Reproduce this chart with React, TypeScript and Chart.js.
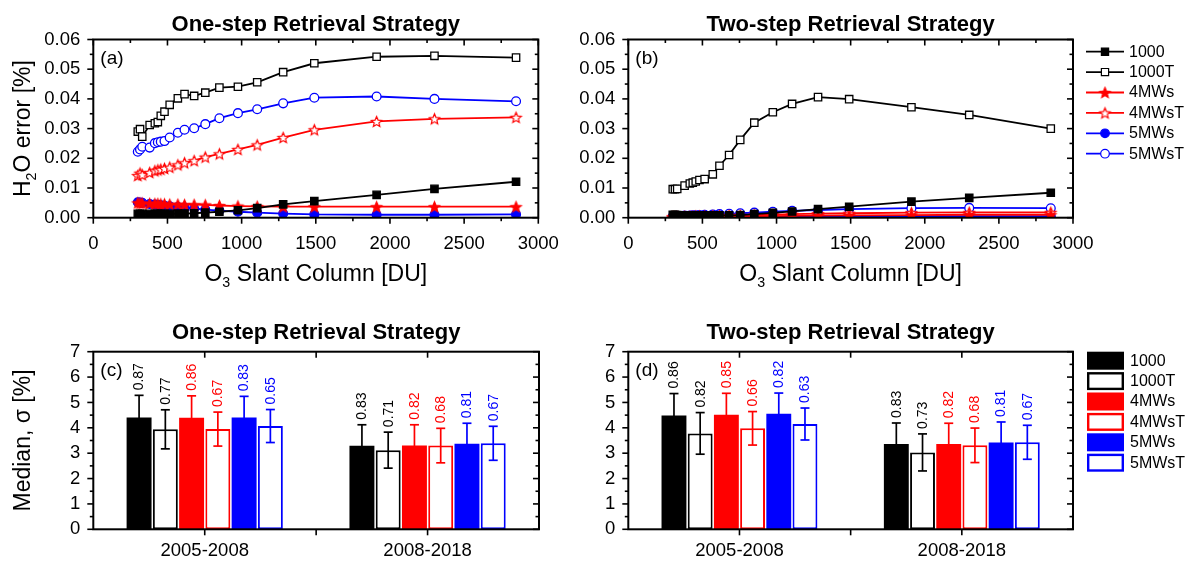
import React, { useEffect, useRef } from 'react';
import { Chart, registerables } from 'chart.js';

Chart.register(...registerables);

const FONT = '"Liberation Sans", Arial, Helvetica, sans-serif';

// ---------- data ----------
const slantColumn = [300, 315, 330, 380, 415, 435, 455, 480, 515, 570, 615, 680, 755, 850, 975, 1105, 1280, 1490, 1910, 2300, 2850];

const oneStep1000 = [0.0013, 0.0013, 0.0013, 0.0013, 0.0013, 0.0013, 0.0013, 0.0013, 0.0013, 0.0014, 0.0014, 0.0015, 0.0017, 0.002, 0.0025, 0.0032, 0.0045, 0.0056, 0.0077, 0.0097, 0.0121];
const oneStep1000T = [0.029, 0.0298, 0.0273, 0.0312, 0.0318, 0.0322, 0.0343, 0.0357, 0.038, 0.0402, 0.0416, 0.041, 0.0421, 0.0438, 0.0441, 0.0456, 0.049, 0.052, 0.0542, 0.0545, 0.0539];
const oneStep4MWs = [0.005, 0.0049, 0.0049, 0.0048, 0.0047, 0.0047, 0.0046, 0.0046, 0.0045, 0.0045, 0.0044, 0.0044, 0.0043, 0.0041, 0.0039, 0.0038, 0.0037, 0.0037, 0.0037, 0.0037, 0.0037];
const oneStep4MWsT = [0.0142, 0.015, 0.0145, 0.0152, 0.0158, 0.0161, 0.0163, 0.0166, 0.017, 0.0178, 0.0185, 0.0192, 0.0204, 0.0215, 0.023, 0.0245, 0.027, 0.0296, 0.0324, 0.0333, 0.0338];
const oneStep5MWs = [0.0052, 0.0051, 0.005, 0.0046, 0.0044, 0.0043, 0.0042, 0.004, 0.0038, 0.0036, 0.0034, 0.0031, 0.0027, 0.0024, 0.002, 0.0017, 0.0014, 0.0011, 0.001, 0.001, 0.0011];
const oneStep5MWsT = [0.0222, 0.023, 0.0239, 0.0236, 0.0251, 0.0254, 0.0256, 0.0258, 0.027, 0.0286, 0.0296, 0.0301, 0.0315, 0.0335, 0.0352, 0.0365, 0.0385, 0.0404, 0.0408, 0.04, 0.0392];

const twoStep1000 = [0.001, 0.001, 0.0009, 0.0008, 0.0008, 0.0008, 0.0008, 0.0008, 0.0008, 0.0008, 0.0008, 0.0008, 0.0009, 0.0012, 0.0016, 0.0021, 0.0029, 0.0037, 0.0054, 0.0067, 0.0084];
const twoStep1000T = [0.0096, 0.0096, 0.0097, 0.0108, 0.0115, 0.0118, 0.0122, 0.0127, 0.013, 0.0146, 0.0175, 0.0211, 0.0262, 0.032, 0.0355, 0.0383, 0.0406, 0.0399, 0.0372, 0.0346, 0.03];
const twoStep4MWs = [0.0002, 0.0002, 0.0002, 0.0002, 0.0002, 0.0002, 0.0003, 0.0003, 0.0003, 0.0003, 0.0003, 0.0004, 0.0004, 0.0005, 0.0005, 0.0006, 0.0007, 0.0008, 0.0009, 0.001, 0.001];
const twoStep4MWsT = [0.0003, 0.0003, 0.0003, 0.0004, 0.0004, 0.0004, 0.0005, 0.0005, 0.0005, 0.0006, 0.0006, 0.0007, 0.0008, 0.0009, 0.001, 0.0012, 0.0014, 0.0015, 0.0017, 0.0018, 0.0018];
const twoStep5MWs = [0.0001, 0.0001, 0.0001, 0.0001, 0.0001, 0.0001, 0.0001, 0.0002, 0.0002, 0.0002, 0.0002, 0.0002, 0.0002, 0.0003, 0.0003, 0.0003, 0.0004, 0.0004, 0.0005, 0.0005, 0.0005];
const twoStep5MWsT = [0.0005, 0.0005, 0.0006, 0.0007, 0.0007, 0.0008, 0.0008, 0.0009, 0.001, 0.0011, 0.0012, 0.0013, 0.0015, 0.0017, 0.002, 0.0023, 0.0026, 0.0029, 0.0032, 0.0033, 0.0032];

const periods = ['2005-2008', '2008-2018'];
const seriesNames = ['1000', '1000T', '4MWs', '4MWsT', '5MWs', '5MWsT'];

const oneStepMedian2005 = [4.41, 3.94, 4.4, 3.95, 4.41, 4.07];
const oneStepMedian2008 = [3.29, 3.12, 3.3, 3.3, 3.37, 3.39];
const oneStepSigma2005 = [0.87, 0.77, 0.86, 0.67, 0.83, 0.65];
const oneStepSigma2008 = [0.83, 0.71, 0.82, 0.68, 0.81, 0.67];
const twoStepMedian2005 = [4.49, 3.78, 4.51, 3.98, 4.55, 4.15];
const twoStepMedian2008 = [3.36, 3.03, 3.36, 3.31, 3.42, 3.43];
const twoStepSigma2005 = [0.86, 0.82, 0.85, 0.66, 0.82, 0.63];
const twoStepSigma2008 = [0.83, 0.73, 0.82, 0.68, 0.81, 0.67];

const xTicksLine = [0, 500, 1000, 1500, 2000, 2500, 3000];
const yTicksLine = [0, 0.01, 0.02, 0.03, 0.04, 0.05, 0.06];
const yTicksBar = [0, 1, 2, 3, 4, 5, 6, 7];

// ---------- styles ----------
const seriesColors = ['#000000', '#000000', '#ff0000', '#ff0000', '#0000ff', '#0000ff'];
const seriesFilled = [true, false, true, false, true, false];
const seriesMarker = ['rect', 'rect', 'star', 'star', 'circle', 'circle'];
const TICK_SIZE = 18.5;
const TITLE_SIZE = 22;
const AXIS_TITLE_SIZE = 23;

type Part = { t: string; sub?: boolean };

function makeStar(fill: string, stroke: string): HTMLCanvasElement {
  const R = 5.5, r = 2.5, size = 15;
  const c = document.createElement('canvas');
  c.width = size; c.height = size;
  const g = c.getContext('2d')!;
  g.beginPath();
  for (let k = 0; k < 10; k++) {
    const rad = k % 2 === 0 ? R : r;
    const ang = -Math.PI / 2 + (k * Math.PI) / 5;
    const x = size / 2 + rad * Math.cos(ang);
    const y = size / 2 + 0.6 + rad * Math.sin(ang);
    if (k === 0) g.moveTo(x, y); else g.lineTo(x, y);
  }
  g.closePath();
  g.fillStyle = fill; g.fill();
  g.lineWidth = 1.2; g.strokeStyle = stroke; g.lineJoin = 'miter'; g.stroke();
  return c;
}

function drawParts(ctx: CanvasRenderingContext2D, parts: Part[], cx: number, cy: number, size: number, rotate: boolean) {
  ctx.save();
  ctx.translate(cx, cy);
  if (rotate) ctx.rotate(-Math.PI / 2);
  const widths = parts.map(p => { ctx.font = `${p.sub ? size * 0.62 : size}px ${FONT}`; return ctx.measureText(p.t).width; });
  const total = widths.reduce((a, b) => a + b, 0);
  let x = -total / 2;
  ctx.textBaseline = 'middle'; ctx.textAlign = 'left'; ctx.fillStyle = '#000';
  parts.forEach((p, k) => {
    ctx.font = `${p.sub ? size * 0.62 : size}px ${FONT}`;
    ctx.fillText(p.t, x, p.sub ? size * 0.33 : 0);
    x += widths[k];
  });
  ctx.restore();
}

function seg(ctx: CanvasRenderingContext2D, x1: number, y1: number, x2: number, y2: number) {
  ctx.beginPath(); ctx.moveTo(x1, y1); ctx.lineTo(x2, y2); ctx.stroke();
}

function drawMarker(ctx: CanvasRenderingContext2D, i: number, x: number, y: number, stars: HTMLCanvasElement[]) {
  const col = seriesColors[i];
  ctx.save();
  ctx.lineWidth = 1.2; ctx.strokeStyle = col; ctx.fillStyle = seriesFilled[i] ? col : '#fff';
  const m = seriesMarker[i];
  if (m === 'rect') { ctx.beginPath(); ctx.rect(x - 3.6, y - 3.6, 7.2, 7.2); ctx.fill(); ctx.stroke(); }
  else if (m === 'circle') { ctx.beginPath(); ctx.arc(x, y, 4.3, 0, Math.PI * 2); ctx.fill(); ctx.stroke(); }
  else { const img = stars[seriesFilled[i] ? 0 : 1]; ctx.drawImage(img, x - img.width / 2, y - img.height / 2); }
  ctx.restore();
}

type PanelCfg = {
  kind: 'line' | 'bar';
  title: string;
  titleGap: number;
  letter: string;
  xTitle?: Part[];
  xTitleY?: number;
  yTitle?: Part[];
  legend?: boolean;
  legendX?: number;
  legendY?: number;
  sigmas?: number[][];
  stars: HTMLCanvasElement[];
};

function panelPlugin(cfg: PanelCfg) {
  return {
    id: 'panelDecor',
    afterDatasetsDraw(chart: any) {
      if (cfg.kind !== 'bar' || !cfg.sigmas) return;
      const ctx: CanvasRenderingContext2D = chart.ctx;
      const ys = chart.scales.y;
      chart.data.datasets.forEach((ds: any, i: number) => {
        const meta = chart.getDatasetMeta(i);
        const col = seriesColors[i];
        meta.data.forEach((el: any, j: number) => {
          const v = ds.data[j];
          const s = cfg.sigmas![j][i];
          const x = el.x;
          const yT = ys.getPixelForValue(v + s);
          const yB = ys.getPixelForValue(v - s);
          ctx.save();
          ctx.strokeStyle = col; ctx.lineWidth = 1.7;
          seg(ctx, x, yT, x, yB);
          seg(ctx, x - 4.5, yT, x + 4.5, yT);
          seg(ctx, x - 4.5, yB, x + 4.5, yB);
          ctx.translate(x + 0.5, yT - 5);
          ctx.rotate(-Math.PI / 2);
          ctx.textAlign = 'left'; ctx.textBaseline = 'middle';
          ctx.fillStyle = col; ctx.font = `14px ${FONT}`;
          ctx.fillText(s.toFixed(2), 0, 0);
          ctx.restore();
        });
      });
    },
    afterDraw(chart: any) {
      const ctx: CanvasRenderingContext2D = chart.ctx;
      const a = chart.chartArea;
      const xs = chart.scales.x, ys = chart.scales.y;
      ctx.save();
      ctx.strokeStyle = '#000';
      // ticks
      ctx.lineWidth = 1.6;
      const MAJ = 6, MIN = 3.5;
      if (cfg.kind === 'line') {
        for (let k = 0; k <= 12; k++) {
          const px = xs.getPixelForValue(k * 250);
          const len = k % 2 === 0 ? MAJ : MIN;
          seg(ctx, px, a.bottom, px, a.bottom + len);
          seg(ctx, px, a.top, px, a.top + len);
        }
        for (let k = 0; k <= 12; k++) {
          const py = ys.getPixelForValue(k * 0.005);
          const len = k % 2 === 0 ? MAJ : MIN;
          seg(ctx, a.left - len, py, a.left, py);
          seg(ctx, a.right - len, py, a.right, py);
        }
      } else {
        const p0 = xs.getPixelForValue(0), p1 = xs.getPixelForValue(1);
        [p0, (p0 + p1) / 2, p1].forEach(px => {
          seg(ctx, px, a.bottom, px, a.bottom + MAJ);
          seg(ctx, px, a.top, px, a.top + MAJ);
        });
        for (let k = 0; k <= 14; k++) {
          const py = ys.getPixelForValue(k * 0.5);
          const len = k % 2 === 0 ? MAJ : MIN;
          seg(ctx, a.left - len, py, a.left, py);
          seg(ctx, a.right - len, py, a.right, py);
        }
      }
      // frame
      ctx.lineWidth = 2;
      ctx.strokeRect(a.left, a.top, a.right - a.left, a.bottom - a.top);
      // title
      ctx.fillStyle = '#000';
      ctx.font = `bold ${TITLE_SIZE}px ${FONT}`;
      ctx.textAlign = 'center'; ctx.textBaseline = 'alphabetic';
      ctx.fillText(cfg.title, (a.left + a.right) / 2, a.top - cfg.titleGap);
      // letter
      ctx.font = `19px ${FONT}`;
      ctx.textAlign = 'left'; ctx.textBaseline = 'middle';
      ctx.fillText(cfg.letter, a.left + 7, a.top + 19);
      // axis titles
      if (cfg.xTitle) drawParts(ctx, cfg.xTitle, (a.left + a.right) / 2, cfg.xTitleY!, AXIS_TITLE_SIZE, false);
      if (cfg.yTitle) drawParts(ctx, cfg.yTitle, 24, (a.top + a.bottom) / 2, AXIS_TITLE_SIZE, true);
      // legend
      if (cfg.legend) {
        const lx = cfg.legendX!, ly = cfg.legendY!;
        chart.data.datasets.forEach((ds: any, i: number) => {
          const y = ly + i * 20.4;
          const col = seriesColors[i];
          if (cfg.kind === 'line') {
            ctx.strokeStyle = col; ctx.lineWidth = 1.8;
            seg(ctx, lx, y, lx + 38, y);
            drawMarker(ctx, i, lx + 19, y, cfg.stars);
          } else {
            if (seriesFilled[i]) {
              ctx.fillStyle = col; ctx.fillRect(lx, y - 9, 37, 18);
            } else {
              ctx.fillStyle = '#fff'; ctx.fillRect(lx, y - 9, 37, 18);
              ctx.strokeStyle = col; ctx.lineWidth = 2.4;
              ctx.strokeRect(lx + 1.2, y - 7.8, 34.6, 15.6);
            }
          }
          ctx.fillStyle = '#000';
          ctx.font = `16px ${FONT}`;
          ctx.textAlign = 'left'; ctx.textBaseline = 'middle';
          ctx.fillText(ds.label, lx + 43, y + 0.5);
        });
      }
      ctx.restore();
    },
  };
}

type Area = { left: number; right: number; top: number; bottom: number; w: number; h: number };

function lineConfig(values: number[][], area: Area, cfg: PanelCfg): any {
  return {
    type: 'line',
    data: {
      datasets: seriesNames.map((name, i) => ({
        label: name,
        data: slantColumn.map((x, k) => ({ x, y: values[i][k] })),
        borderColor: seriesColors[i],
        backgroundColor: seriesColors[i],
        borderWidth: 1.8,
        tension: 0,
        pointStyle: seriesMarker[i] === 'star' ? cfg.stars[seriesFilled[i] ? 0 : 1] : seriesMarker[i],
        pointRadius: seriesMarker[i] === 'rect' ? 5.2 : 4.4,
        pointBackgroundColor: seriesFilled[i] ? seriesColors[i] : '#ffffff',
        pointBorderColor: seriesColors[i],
        pointBorderWidth: 1.3,
      })),
    },
    options: {
      responsive: false,
      animation: false,
      layout: { padding: { left: 0, top: area.top, right: area.w - area.right, bottom: 0 } },
      plugins: { legend: { display: false }, tooltip: { enabled: false }, title: { display: false } },
      scales: {
        x: {
          type: 'linear', min: 0, max: 3000,
          grid: { display: false, drawTicks: false }, border: { display: false },
          afterBuildTicks: (s: any) => { s.ticks = xTicksLine.map(v => ({ value: v })); },
          ticks: { padding: 15, color: '#000', font: { family: FONT, size: TICK_SIZE }, maxRotation: 0, autoSkip: false, callback: (v: any) => String(v) },
          afterFit: (s: any) => { s.height = area.h - area.bottom; },
        },
        y: {
          type: 'linear', min: 0, max: 0.06,
          grid: { display: false, drawTicks: false }, border: { display: false },
          afterBuildTicks: (s: any) => { s.ticks = yTicksLine.map(v => ({ value: v })); },
          ticks: { padding: 13, color: '#000', font: { family: FONT, size: TICK_SIZE }, callback: (v: any) => Number(v).toFixed(2) },
          afterFit: (s: any) => { s.width = area.left; },
        },
      },
    },
    plugins: [panelPlugin(cfg)],
  };
}

function barConfig(medians: number[][], area: Area, cfg: PanelCfg): any {
  return {
    type: 'bar',
    data: {
      labels: periods,
      datasets: seriesNames.map((name, i) => ({
        label: name,
        data: medians.map(m => m[i]),
        backgroundColor: seriesFilled[i] ? seriesColors[i] : '#ffffff',
        borderColor: seriesColors[i],
        borderWidth: seriesFilled[i] ? 0 : 2,
        borderSkipped: false,
        barPercentage: 0.95,
        categoryPercentage: 0.707,
      })),
    },
    options: {
      responsive: false,
      animation: false,
      layout: { padding: { left: 0, top: area.top, right: area.w - area.right, bottom: 0 } },
      plugins: { legend: { display: false }, tooltip: { enabled: false }, title: { display: false } },
      scales: {
        x: {
          type: 'category',
          grid: { display: false, drawTicks: false }, border: { display: false },
          ticks: { padding: 11, color: '#000', font: { family: FONT, size: TICK_SIZE }, maxRotation: 0, autoSkip: false },
          afterFit: (s: any) => { s.height = area.h - area.bottom; },
        },
        y: {
          type: 'linear', min: 0, max: 7,
          grid: { display: false, drawTicks: false }, border: { display: false },
          afterBuildTicks: (s: any) => { s.ticks = yTicksBar.map(v => ({ value: v })); },
          ticks: { padding: 13, color: '#000', font: { family: FONT, size: TICK_SIZE }, callback: (v: any) => String(v) },
          afterFit: (s: any) => { s.width = area.left; },
        },
      },
    },
    plugins: [panelPlugin(cfg)],
  };
}

const O3_TITLE: Part[] = [{ t: 'O' }, { t: '3', sub: true }, { t: ' Slant Column [DU]' }];
const H2O_TITLE: Part[] = [{ t: 'H' }, { t: '2', sub: true }, { t: 'O error [%]' }];
const MEDIAN_TITLE: Part[] = [{ t: 'Median, σ [%]' }];

export default function App() {
  const aRef = useRef<HTMLCanvasElement>(null);
  const bRef = useRef<HTMLCanvasElement>(null);
  const cRef = useRef<HTMLCanvasElement>(null);
  const dRef = useRef<HTMLCanvasElement>(null);

  useEffect(() => {
    document.body.style.margin = '0';
    const stars = [makeStar('#ff0000', '#ff0000'), makeStar('#ffffff', '#ff0000')];
    const areaA: Area = { left: 93.3, right: 538.3, top: 39.5, bottom: 217.7, w: 590, h: 300 };
    const areaB: Area = { left: 83.3, right: 528, top: 39.5, bottom: 217.7, w: 644, h: 300 };
    const areaC: Area = { left: 93.3, right: 539, top: 51.7, bottom: 229.3, w: 590, h: 261 };
    const areaD: Area = { left: 83.3, right: 528, top: 51.7, bottom: 229.3, w: 644, h: 261 };

    const charts = [
      new Chart(aRef.current!, lineConfig(
        [oneStep1000, oneStep1000T, oneStep4MWs, oneStep4MWsT, oneStep5MWs, oneStep5MWsT], areaA,
        { kind: 'line', title: 'One-step Retrieval Strategy', titleGap: 8.5, letter: '(a)', xTitle: O3_TITLE, xTitleY: 275, yTitle: H2O_TITLE, stars })),
      new Chart(bRef.current!, lineConfig(
        [twoStep1000, twoStep1000T, twoStep4MWs, twoStep4MWsT, twoStep5MWs, twoStep5MWsT], areaB,
        { kind: 'line', title: 'Two-step Retrieval Strategy', titleGap: 8.5, letter: '(b)', xTitle: O3_TITLE, xTitleY: 275, legend: true, legendX: 541, legendY: 51.7, stars })),
      new Chart(cRef.current!, barConfig([oneStepMedian2005, oneStepMedian2008], areaC,
        { kind: 'bar', title: 'One-step Retrieval Strategy', titleGap: 12.5, letter: '(c)', yTitle: MEDIAN_TITLE, sigmas: [oneStepSigma2005, oneStepSigma2008], stars })),
      new Chart(dRef.current!, barConfig([twoStepMedian2005, twoStepMedian2008], areaD,
        { kind: 'bar', title: 'Two-step Retrieval Strategy', titleGap: 12.5, letter: '(d)', legend: true, legendX: 542, legendY: 60.7, sigmas: [twoStepSigma2005, twoStepSigma2008], stars })),
    ];
    return () => charts.forEach(c => c.destroy());
  }, []);

  return (
    <div style={{ position: 'relative', width: 1189, height: 561, background: '#fff', overflow: 'hidden' }}>
      <canvas ref={cRef} width={590} height={261} style={{ position: 'absolute', left: 0, top: 300 }} />
      <canvas ref={dRef} width={644} height={261} style={{ position: 'absolute', left: 545, top: 300 }} />
      <canvas ref={aRef} width={590} height={300} style={{ position: 'absolute', left: 0, top: 0 }} />
      <canvas ref={bRef} width={644} height={300} style={{ position: 'absolute', left: 545, top: 0 }} />
    </div>
  );
}
